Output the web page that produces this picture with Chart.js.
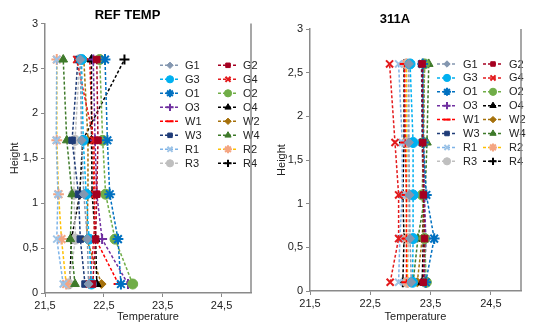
<!DOCTYPE html>
<html>
<head>
<meta charset="utf-8">
<script src="https://cdn.jsdelivr.net/npm/chart.js@4/dist/chart.umd.min.js"></script>
<style>
	html, body { margin: 0; padding: 0; background: #fff; }
	#wrap { position: relative; width: 538px; height: 331px; }
	canvas { position: absolute; top: 0; }
</style>
</head>
<body>
<div id="wrap">
	<canvas id="left" width="268" height="331" style="left:0"></canvas>
	<canvas id="right" width="270" height="331" style="left:268px"></canvas>
</div>
<script>
'use strict';

// Heights where the temperatures were measured (y values)
const heights = [0.1, 0.6, 1.1, 1.7, 2.6];
const seriesNames = ['G1', 'G2', 'G3', 'G4', 'O1', 'O2', 'O3', 'O4', 'W1', 'W2', 'W3', 'W4', 'R1', 'R2', 'R3', 'R4'];
const xTicks = [21.5, 22.5, 23.5, 24.5];
const yTicks = [0, 0.5, 1, 1.5, 2, 2.5, 3];

// REF TEMP panel: one row per series, values at the heights above
const refTempValues = [
	[22.24, 22.22, 22.16, 22.12, 22.10], // G1
	[22.31, 22.36, 22.38, 22.40, 22.38], // G2
	[22.29, 22.25, 22.20, 22.15, 22.12], // G3
	[22.26, 22.33, 22.35, 22.33, 22.04], // G4
	[22.79, 22.74, 22.60, 22.56, 22.52], // O1
	[22.99, 22.69, 22.53, 22.48, 22.43], // O2
	[22.91, 22.47, 22.38, 22.35, 22.32], // O3
	[22.38, 22.36, 22.30, 22.29, 22.29], // O4
	[22.75, 22.36, 22.33, 22.31, 22.26], // W1
	[22.46, 22.21, 22.23, 22.23, 22.16], // W2
	[22.18, 22.10, 22.07, 21.96, 22.06], // W3
	[22.01, 21.93, 21.96, 21.87, 21.81], // W4
	[21.81, 21.70, 21.72, 21.69, 21.70], // R1
	[21.86, 21.78, 21.73, 21.70, 21.70], // R2
	[21.90, 22.02, 21.99, 22.01, 22.09], // R3
	[21.92, 21.95, 22.09, 22.14, 22.85]  // R4
];

// 311A panel
const a311Values = [
	[23.18, 23.16, 23.15, 23.14, 23.14], // G1
	[23.38, 23.40, 23.38, 23.37, 23.36], // G2
	[23.20, 23.21, 23.21, 23.21, 23.16], // G3
	[22.83, 22.97, 22.97, 22.91, 22.82], // G4
	[23.42, 23.56, 23.43, 23.38, 23.37], // O1
	[23.43, 23.40, 23.36, 23.38, 23.40], // O2
	[23.40, 23.42, 23.40, 23.38, 23.38], // O3
	[23.36, 23.38, 23.38, 23.38, 23.37], // O4
	[23.10, 23.10, 23.10, 23.08, 23.07], // W1
	[23.28, 23.36, 23.40, 23.38, 23.40], // W2
	[23.40, 23.42, 23.38, 23.36, 23.35], // W3
	[23.21, 23.29, 23.41, 23.44, 23.47], // W4
	[22.97, 22.99, 23.03, 23.03, 22.97], // R1
	[23.12, 23.10, 23.10, 23.10, 23.10], // R2
	[23.11, 23.14, 23.13, 23.12, 23.10], // R3
	[23.04, 23.06, 23.04, 23.06, 23.06]  // R4
];

// Look of each series: line colour, marker colour, marker style
const lineColors   = ['#8497B0', '#A50021', '#00B0F0', '#E31A1C', '#0070C0', '#70AD47', '#7030A0', '#000000',
                      '#FF0000', '#A5700A', '#1F3C78', '#3E7A2A', '#7DB3E8', '#FFC000', '#BFBFBF', '#000000'];
const markerColors = ['#8497B0', '#A50021', '#00B0F0', '#E31A1C', '#0070C0', '#70AD47', '#7030A0', '#000000',
                      '#FF0000', '#A5700A', '#1F3C78', '#3E7A2A', '#9DC3E6', '#F4A582', '#BFBFBF', '#000000'];
const markerStyles = ['rectRot', 'rect', 'circle', 'crossRot', 'star', 'circle', 'cross', 'triangle',
                      'line', 'rectRot', 'rect', 'triangle', 'crossRot', 'star', 'circle', 'cross'];

Chart.defaults.font.family = '"Liberation Sans", Arial, sans-serif';
Chart.defaults.color = '#222';

function fmt(v) {
	return String(v).replace('.', ',');
}

function markerRadius(style) {
	if (style === 'rect' || style === 'rectRot') return 4.6;
	if (style === 'star') return 5.4;
	return 5;
}

function buildDatasets(values) {
	return values.map(function(row, i){
		const style = markerStyles[i];
		const lined = style === 'cross' || style === 'crossRot' || style === 'star' || style === 'line';
		return {
			label: seriesNames[i],
			data: heights.map(function(h, k){ return { x: row[k], y: h }; }),
			borderColor: lineColors[i],
			borderWidth: 1.5,
			borderDash: [3, 2],
			pointStyle: style,
			pointRadius: markerRadius(style),
			pointBackgroundColor: markerColors[i],
			pointBorderColor: markerColors[i],
			pointBorderWidth: lined ? 2 : 1,
			fill: false,
			tension: 0
		};
	});
}

// Legend drawn inside the plot, two columns
const insideLegend = {
	id: 'insideLegend',
	afterDatasetsDraw: function(chart, args, opts) {
		const ctx = chart.ctx;
		ctx.save();
		chart.data.datasets.forEach(function(ds, i){
			const col = i % 2;
			const row = Math.floor(i / 2);
			const lx = opts.cols[col];
			const y = opts.y0 + row * opts.dy;
			ctx.strokeStyle = ds.borderColor;
			ctx.lineWidth = 1.5;
			ctx.setLineDash([3, 2]);
			ctx.beginPath();
			ctx.moveTo(lx, y);
			ctx.lineTo(lx + 20, y);
			ctx.stroke();
			ctx.setLineDash([]);
			ctx.fillStyle = ds.pointBackgroundColor;
			ctx.strokeStyle = ds.pointBorderColor;
			ctx.lineWidth = ds.pointBorderWidth;
			Chart.helpers.drawPoint(ctx, { pointStyle: ds.pointStyle, radius: ds.pointRadius - 1.4, borderWidth: ds.pointBorderWidth, rotation: 0 }, lx + 10, y);
			ctx.fillStyle = '#222';
			ctx.font = '11px "Liberation Sans", Arial, sans-serif';
			ctx.textBaseline = 'middle';
			ctx.textAlign = 'left';
			ctx.fillText(ds.label, lx + opts.textGap, y + 0.5);
		});
		ctx.restore();
	}
};

// Grey right edge of the plot area
const rightEdge = {
	id: 'rightEdge',
	afterDraw: function(chart) {
		const a = chart.chartArea;
		const ctx = chart.ctx;
		ctx.save();
		ctx.strokeStyle = '#8a8a8a';
		ctx.lineWidth = 1.5;
		ctx.beginPath();
		ctx.moveTo(a.right, a.top);
		ctx.lineTo(a.right, a.bottom);
		ctx.stroke();
		ctx.restore();
	}
};

function makeChart(id, title, values, cfg) {
	const ctx = document.getElementById(id).getContext('2d');
	return new Chart(ctx, {
		type: 'line',
		data: { datasets: buildDatasets(values) },
		options: {
			responsive: false,
			animation: false,
			devicePixelRatio: 1,
			layout: { padding: cfg.padding },
			plugins: {
				legend: { display: false },
				tooltip: { enabled: false },
				title: {
					display: true,
					text: title,
					color: '#000',
					font: { size: 13, weight: 'bold' },
					padding: cfg.titlePad
				},
				insideLegend: cfg.legend
			},
			scales: {
				x: {
					type: 'linear',
					min: 21.5,
					max: 25,
					afterBuildTicks: function(s){ s.ticks = xTicks.map(function(v){ return { value: v }; }); },
					afterFit: function(s){ s.height = cfg.xHeight; },
					ticks: { font: { size: 11 }, padding: 2, maxRotation: 0, callback: function(v){ return fmt(v); } },
					grid: { drawOnChartArea: false, drawTicks: true, tickLength: 4, color: '#8a8a8a' },
					border: { color: '#8a8a8a', width: 1.5 },
					title: { display: true, text: 'Temperature', font: { size: 11 }, padding: { top: 0, bottom: cfg.xTitlePad } }
				},
				y: {
					type: 'linear',
					min: 0,
					max: 3,
					afterBuildTicks: function(s){ s.ticks = yTicks.map(function(v){ return { value: v }; }); },
					afterFit: function(s){ s.width = 41; },
					ticks: { font: { size: 11 }, padding: 3, callback: function(v){ return fmt(v); } },
					grid: { drawOnChartArea: false, drawTicks: true, tickLength: 4, color: '#8a8a8a' },
					border: { color: '#8a8a8a', width: 1.5 },
					title: { display: true, text: 'Height', font: { size: 11 }, padding: { top: cfg.yTitlePad, bottom: 0 } }
				}
			}
		},
		plugins: [insideLegend, rightEdge]
	});
}

makeChart('left', 'REF TEMP', refTempValues, {
	padding: { left: 4, right: 17, top: 0, bottom: 0 },
	titlePad: { top: 8, bottom: 0 },
	xHeight: 38,
	xTitlePad: 7,
	yTitlePad: 4,
	legend: { cols: [160, 218], y0: 65.3, dy: 14, textGap: 25 }
});

makeChart('right', '311A', a311Values, {
	padding: { left: 1, right: 17, top: 0, bottom: 0 },
	titlePad: { top: 12, bottom: 1.4 },
	xHeight: 40,
	xTitlePad: 7,
	yTitlePad: 6,
	legend: { cols: [169, 215], y0: 64, dy: 13.9, textGap: 26 }
});
</script>
</body>
</html>
